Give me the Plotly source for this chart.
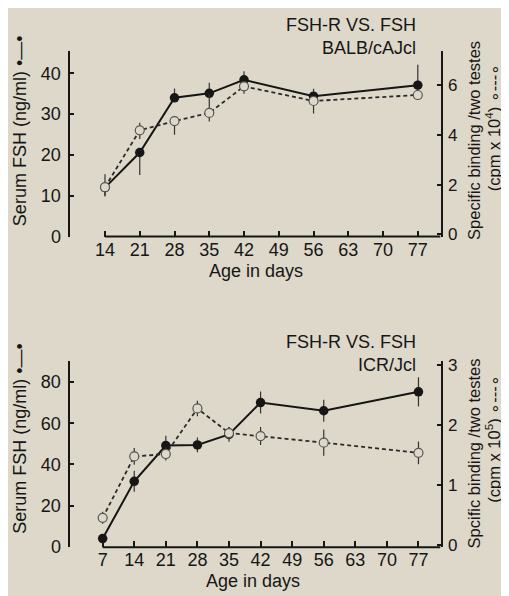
import plotly.graph_objects as go

# ---------------- data ----------------
days_a = [14, 21, 28, 35, 42, 56, 77]
fsh_a = [12.0, 20.6, 34.0, 35.1, 38.4, 34.4, 37.1]
fsh_a_up = [3.3, 0.0, 2.3, 2.6, 2.1, 1.8, 5.0]
fsh_a_dn = [2.2, 5.5, 0.0, 0.0, 0.0, 0.0, 0.0]
bind_a = [1.90, 4.19, 4.56, 4.89, 5.96, 5.37, 5.61]
bind_a_up = [0.0, 0.30, 0.0, 0.75, 0.0, 0.20, 0.0]
bind_a_dn = [0.35, 0.35, 0.55, 0.35, 0.30, 0.50, 0.0]

days_b = [7, 14, 21, 28, 35, 42, 56, 77]
fsh_b = [4.0, 31.8, 49.2, 49.5, 54.6, 70.1, 66.1, 75.3]
fsh_b_err = [1.0, 5.1, 4.8, 3.6, 3.6, 5.3, 5.3, 7.1]
bind_b = [0.456, 1.48, 1.52, 2.28, 1.87, 1.82, 1.71, 1.54]
bind_b_err = [0.10, 0.14, 0.11, 0.13, 0.10, 0.15, 0.22, 0.19]

ticks_a = [14, 21, 28, 35, 42, 49, 56, 63, 70, 77]
ticks_b = [7, 14, 21, 28, 35, 42, 49, 56, 63, 70, 77]

W, H = 509, 596
BG = "rgb(221,216,201)"
INK = "#161616"
FONT = "Liberation Sans, Arial, sans-serif"


def px(x):
    return x / W


def py(y):
    return 1 - y / H


fig = go.Figure()

# ---- top panel ----
fig.add_trace(go.Scatter(
    x=days_a, y=bind_a, xaxis="x", yaxis="y2", mode="lines+markers",
    line=dict(color="#2a2a2a", width=1.8, dash="4px,3px"),
    marker=dict(symbol="circle", size=9, color=BG, line=dict(color="#555", width=1.2)),
    error_y=dict(type="data", array=bind_a_up, arrayminus=bind_a_dn, symmetric=False,
                 color="#333", thickness=1.2, width=0),
    showlegend=False))
fig.add_trace(go.Scatter(
    x=days_a, y=fsh_a, xaxis="x", yaxis="y", mode="lines+markers",
    line=dict(color=INK, width=2),
    marker=dict(symbol="circle", size=9.5, color=INK),
    error_y=dict(type="data", array=fsh_a_up, arrayminus=fsh_a_dn, symmetric=False,
                 color="#333", thickness=1.2, width=0),
    showlegend=False))

# ---- bottom panel ----
fig.add_trace(go.Scatter(
    x=days_b, y=bind_b, xaxis="x2", yaxis="y4", mode="lines+markers",
    line=dict(color="#2a2a2a", width=1.8, dash="4px,3px"),
    marker=dict(symbol="circle", size=9, color=BG, line=dict(color="#555", width=1.2)),
    error_y=dict(type="data", array=bind_b_err, color="#333", thickness=1.2, width=0),
    showlegend=False))
fig.add_trace(go.Scatter(
    x=days_b, y=fsh_b, xaxis="x2", yaxis="y3", mode="lines+markers",
    line=dict(color=INK, width=2),
    marker=dict(symbol="circle", size=9.5, color=INK),
    error_y=dict(type="data", array=fsh_b_err, color="#333", thickness=1.2, width=0),
    showlegend=False))

xdom = [px(61.5), px(432.5)]
top_dom = [py(230), py(40)]
bot_dom = [py(548), py(357)]

common_y = dict(showgrid=False, zeroline=False, showline=True, linecolor=INK, linewidth=2,
                tickcolor=INK, tickwidth=1.5, ticklen=4, ticks="inside")
common_x = dict(showgrid=False, zeroline=False, showline=False, ticks="inside",
                tickcolor=INK, tickwidth=1.5, ticklen=6,
                tickfont=dict(family=FONT, size=18, color=INK))
lfont = dict(family=FONT, size=18, color=INK)
rfont = dict(family=FONT, size=17, color=INK)

fig.update_layout(
    width=W, height=H,
    margin=dict(l=0, r=0, t=0, b=0),
    paper_bgcolor=BG, plot_bgcolor=BG,
    xaxis=dict(domain=xdom, anchor="y", range=[6.85, 81.57], tickvals=ticks_a, **common_x),
    yaxis=dict(domain=top_dom, anchor="x", range=[0, 45.45], tickvals=[0, 10, 20, 30, 40],
               side="left", tickfont=lfont, ticklabelstandoff=3, **common_y),
    yaxis2=dict(overlaying="y", anchor="x", side="right", range=[-0.09, 7.38],
                tickvals=[0, 2, 4, 6], tickfont=rfont, ticklabelstandoff=2, **common_y),
    xaxis2=dict(domain=xdom, anchor="y3", range=[-0.35, 81.88], tickvals=ticks_b, **common_x),
    yaxis3=dict(domain=bot_dom, anchor="x2", range=[-0.14, 90.46], tickvals=[0, 20, 40, 60, 80],
                side="left", tickfont=lfont, ticklabelstandoff=3, **common_y),
    yaxis4=dict(overlaying="y3", anchor="x2", side="right", range=[-0.033, 3.078],
                tickvals=[0, 1, 2, 3], tickfont=rfont, ticklabelstandoff=2, **common_y),
)

# baselines (x axis lines start at first tick)
fig.add_shape(type="line", xref="x", yref="y domain", x0=days_a[0], x1=81.57, y0=0, y1=0,
              line=dict(color=INK, width=2))
fig.add_shape(type="line", xref="x2", yref="y3 domain", x0=days_b[0], x1=81.88, y0=0, y1=0,
              line=dict(color=INK, width=2))


def ann(text, x, y, size=18, angle=0, xanchor="center"):
    fig.add_annotation(text=text, x=px(x), y=py(y), xref="paper", yref="paper",
                       showarrow=False, textangle=angle, xanchor=xanchor, yanchor="middle",
                       font=dict(family=FONT, size=size, color=INK))


# headings
ann("FSH-R VS. FSH", 410, 13, xanchor="right")
ann("BALB/cAJcl", 410, 37, xanchor="right")
ann("FSH-R VS. FSH", 410, 338, xanchor="right")
ann("ICR/Jcl", 410, 362, xanchor="right")

# x titles
ann("Age in days", 248, 265)
ann("Age in days", 245, 583)

# y titles
left_title = "Serum FSH (ng/ml) •—•"
ann(left_title, 12, 122, angle=-90)
ann(left_title, 12, 437, angle=-90)

ann("Specific binding /two testes", 466, 132, size=16.5, angle=-90)
ann("(cpm x 10<sup>4</sup>) ∘---∘", 485, 119, size=16.5, angle=-90)
ann("Spcific binding /two testes", 466, 452, size=16.5, angle=-90)
ann("(cpm x 10<sup>5</sup>) ∘---∘", 485, 438, size=16.5, angle=-90)

fig.write_html("out.html")
